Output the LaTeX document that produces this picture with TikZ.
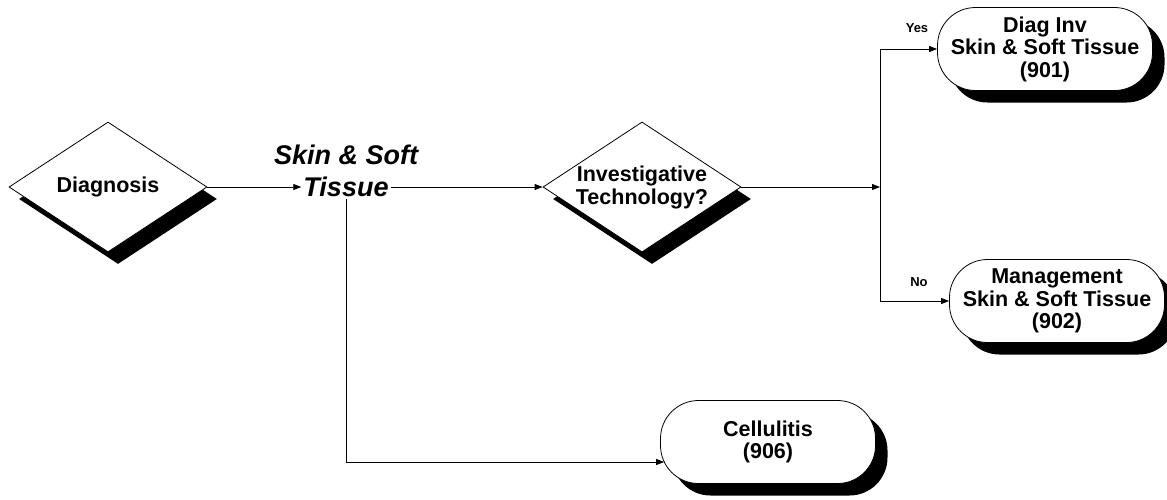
\documentclass[tikz,border=0pt]{standalone}
\usepackage{fontspec}
\setmainfont{Liberation Sans}
\usetikzlibrary{arrows.meta,positioning,shapes.geometric,shadows}

\tikzset{
  decision/.style={diamond, draw, fill=white, line width=0.8pt, aspect=1.52,
    minimum width=198pt, minimum height=130pt, inner sep=0pt, align=center,
    font=\fontsize{21.5}{23}\selectfont\bfseries,
    drop shadow={shadow xshift=10pt, shadow yshift=-12pt, fill=black, opacity=1}},
  terminal/.style={rectangle, rounded corners=38pt, draw, fill=white, line width=0.8pt,
    minimum width=215pt, minimum height=83pt, inner sep=1pt, align=center,
    font=\fontsize{21.5}{22.5}\selectfont\bfseries,
    drop shadow={shadow xshift=12pt, shadow yshift=-12pt, fill=black, opacity=1}},
  skintext/.style={inner sep=2pt, font=\fontsize{27}{31}\selectfont\bfseries\itshape},
  answer/.style={font=\fontsize{13}{15}\selectfont\bfseries},
  flow/.style={line width=0.8pt, -{Triangle[length=8pt,width=6pt]}}
}

\begin{document}
\begin{tikzpicture}[x=1pt,y=-1pt]
\useasboundingbox (0,0) rectangle (1167,499);

% decisions and outcomes
\node[decision] (diag) at (108,187) {Diagnosis};
\node[skintext] (tissue) at (346,187) {Tissue};
\node[skintext, above=8pt of tissue] (skin) {Skin \& Soft};
\node[decision] (inv) at (642,187) {Investigative\\Technology?};
\node[terminal] (dinv) at (1045,49) {Diag Inv\\Skin \& Soft Tissue\\(901)};
\node[terminal] (mgmt) at (1057,301) {Management\\Skin \& Soft Tissue\\(902)};
\node[terminal] (cell) at (768,442) {Cellulitis\\(906)};
\coordinate (split) at (880,187);

\node[answer] (yes) at (917,28) {Yes};
\node[answer] (no) at (919,282) {No};

% connectors
\draw[flow] (diag.east) -- (tissue.west);
\draw[flow] (tissue.east) -- (inv.west);
\draw[flow] (inv.east) -- (split);
\draw[line width=0.8pt] (split |- dinv.west) -- (split |- mgmt.west);
\draw[flow] (split |- dinv.west) -- (dinv.west);
\draw[flow] (split |- mgmt.west) -- (mgmt.west);
\draw[flow] (tissue.south) |- ([xshift=4pt,yshift=-20pt]cell.west);
\end{tikzpicture}
\end{document}
